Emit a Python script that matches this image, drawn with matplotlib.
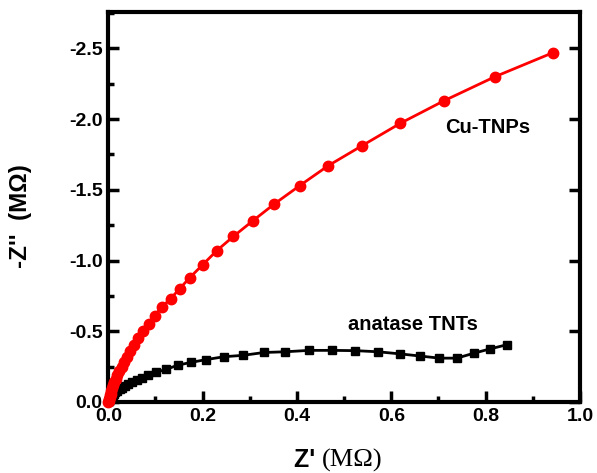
import matplotlib
matplotlib.use("Agg")
import matplotlib.pyplot as plt
from matplotlib.ticker import MultipleLocator

# Cu-TNPs (red circles)
cu_x = [0.0, 0.001, 0.002, 0.003, 0.004, 0.005, 0.006, 0.008, 0.010, 0.013, 0.016,
        0.019, 0.023, 0.028, 0.033, 0.039, 0.046, 0.054, 0.063, 0.074, 0.086,
        0.098, 0.113, 0.132, 0.151, 0.173, 0.200, 0.230, 0.265, 0.306, 0.352,
        0.406, 0.466, 0.537, 0.619, 0.712, 0.820, 0.943]
cu_z = [0.0, -0.01, -0.02, -0.035, -0.05, -0.06, -0.08, -0.10, -0.12, -0.14, -0.16,
        -0.19, -0.22, -0.25, -0.28, -0.32, -0.36, -0.40, -0.45, -0.50, -0.55,
        -0.61, -0.67, -0.73, -0.80, -0.88, -0.97, -1.07, -1.17, -1.28, -1.40,
        -1.53, -1.67, -1.81, -1.97, -2.13, -2.30, -2.47]

# anatase TNTs (black squares)
tnt_x = [0.001, 0.002, 0.003, 0.005, 0.007, 0.009, 0.012, 0.015, 0.019, 0.024,
         0.029, 0.035, 0.042, 0.050, 0.060, 0.071, 0.085, 0.101, 0.122, 0.147,
         0.175, 0.208, 0.245, 0.286, 0.330, 0.375, 0.426, 0.475, 0.524, 0.572,
         0.619, 0.661, 0.702, 0.739, 0.775, 0.809, 0.845]
tnt_z = [-0.005, -0.01, -0.02, -0.03, -0.04, -0.05, -0.06, -0.07, -0.08, -0.09,
         -0.10, -0.11, -0.125, -0.14, -0.155, -0.17, -0.19, -0.21, -0.23, -0.26,
         -0.28, -0.30, -0.32, -0.33, -0.35, -0.355, -0.365, -0.365, -0.363, -0.355,
         -0.34, -0.325, -0.31, -0.31, -0.345, -0.375, -0.405]

x_ticks = [0.0, 0.2, 0.4, 0.6, 0.8, 1.0]
y_ticks = [0.0, -0.5, -1.0, -1.5, -2.0, -2.5]

plt.rcParams['font.family'] = ['Liberation Sans', 'DejaVu Sans']

fig = plt.figure(figsize=(5.97, 4.73), dpi=100)
ax = fig.add_axes([108.3 / 597, 1 - 402 / 473, (580 - 108.3) / 597, (402 - 12) / 473])

ax.plot(tnt_x, tnt_z, color='black', marker='s', markersize=6, lw=2, clip_on=False, zorder=3)
ax.plot(cu_x, cu_z, color='red', marker='o', markersize=7.5, lw=2, clip_on=False, zorder=4)

ax.set_xlim(0, 1.0)
ax.set_ylim(0, -2.757)

ax.set_xticks(x_ticks)
ax.set_yticks(y_ticks)
ax.xaxis.set_minor_locator(MultipleLocator(0.1))
ax.yaxis.set_minor_locator(MultipleLocator(0.25))
ax.set_xticklabels([f"{v:.1f}" for v in x_ticks], fontweight='bold', fontsize=14)
ax.set_yticklabels([f"{v:.1f}" for v in y_ticks], fontweight='bold', fontsize=14)

ax.tick_params(which='major', direction='in', length=8, width=2.5, top=False, right=True, pad=4)
ax.tick_params(which='minor', direction='in', length=4, width=2.5, top=False, right=False)
for s in ax.spines.values():
    s.set_linewidth(3)

ax.set_ylabel("-Z''  (M\u03a9)", fontsize=17.5, fontweight='bold')
ax.yaxis.set_label_coords(-(108.3 - 32) / (580 - 108.3), (402 - 216) / (402 - 12))

fig.text(0.539, 1 - 460 / 473, "Z' ", fontsize=18, fontweight='bold', ha='right', va='center')
fig.text(0.539, 1 - 460 / 473, "(M\u03a9)", fontsize=19, ha='left', va='center',
         family=['Liberation Serif', 'DejaVu Serif'])

ax.text(0.805, -1.94, "Cu-TNPs", fontsize=14.5, fontweight='bold', ha='center', va='center')
ax.text(0.645, -0.545, "anatase TNTs", fontsize=14.5, fontweight='bold', ha='center', va='center')

fig.savefig("out.png", dpi=100)
